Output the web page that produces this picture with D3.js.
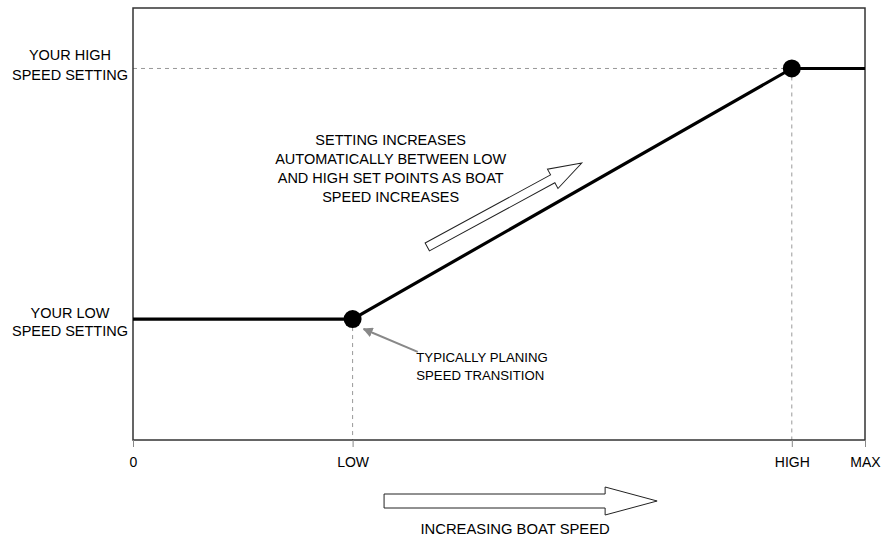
<!DOCTYPE html>
<html lang="en">
<head>
<meta charset="utf-8">
<title>Speed setting</title>
<script src="https://d3js.org/d3.v7.min.js"></script>
<style>
  body { margin: 0; background: #fff; }
  text { font-family: "Liberation Sans", Arial, sans-serif; fill: #000; }
</style>
</head>
<body>
<script>
// boat speed positions (percent of max) and tick labels
const speedTicks = [0, 30, 90, 100];
const speedLabels = ["0", "LOW", "HIGH", "MAX"];

// setting levels (percent)
const settingLevels = [28, 86];
const settingLabels = [["YOUR LOW", "SPEED SETTING"], ["YOUR HIGH", "SPEED SETTING"]];

// the curve: speed vs setting
const curveSpeed = [0, 30, 90, 100];
const curveSetting = [28, 28, 86, 86];

const noteLines = ["SETTING INCREASES", "AUTOMATICALLY BETWEEN LOW", "AND HIGH SET POINTS AS BOAT", "SPEED INCREASES"];
const transitionLines = ["TYPICALLY PLANING", "SPEED TRANSITION"];
const xTitle = "INCREASING BOAT SPEED";

const margin = {top: 8, right: 30, bottom: 97, left: 133},
      width = 895 - margin.left - margin.right,
      height = 537 - margin.top - margin.bottom;

const svg = d3.select("body").append("svg")
    .attr("width", 895)
    .attr("height", 537)
    .append("g")
    .attr("transform", "translate(" + margin.left + "," + margin.top + ")");

const x = d3.scaleLinear().domain([0, 100]).range([0, width]);
const y = d3.scaleLinear().domain([0, 100]).range([height, 0]);

// dashed guides
const dash = svg.append("g").attr("stroke", "#999").attr("stroke-width", 1).attr("stroke-dasharray", "4,4");
dash.append("line")
    .attr("x1", 0).attr("x2", x(curveSpeed[2]))
    .attr("y1", y(settingLevels[1])).attr("y2", y(settingLevels[1]));
[curveSpeed[1], curveSpeed[2]].forEach(function(s, i) {
    dash.append("line")
        .attr("x1", x(s)).attr("x2", x(s))
        .attr("y1", y(curveSetting[i + 1])).attr("y2", height);
});

// frame
svg.append("rect")
    .attr("x", 0).attr("y", 0)
    .attr("width", width).attr("height", height)
    .attr("fill", "none")
    .attr("stroke", "#333")
    .attr("stroke-width", 1.5);

// x axis ticks + labels
const xAxis = d3.axisBottom(x)
    .tickValues(speedTicks)
    .tickFormat(function(d, i) { return speedLabels[i]; })
    .tickSize(7)
    .tickSizeOuter(0);
const gx = svg.append("g").attr("transform", "translate(0," + height + ")").call(xAxis);
gx.select(".domain").remove();
gx.selectAll(".tick line").attr("stroke", "#888");
gx.selectAll(".tick text")
    .attr("y", 17)
    .attr("fill", "#000")
    .style("font-size", "14px")
    .style("font-family", "'Liberation Sans', Arial, sans-serif");

// y labels (line offsets from the level, low then high)
const labelOffsets = [[-1, 17], [-8, 12]];
settingLevels.forEach(function(v, i) {
    const t = svg.append("text")
        .attr("text-anchor", "middle")
        .style("font-size", "14.5px");
    settingLabels[i].forEach(function(line, j) {
        t.append("tspan")
            .attr("x", -63)
            .attr("y", y(v) + labelOffsets[i][j])
            .text(line);
    });
});

// curve
const line = d3.line()
    .x(function(d) { return x(d[0]); })
    .y(function(d) { return y(d[1]); });
const pts = curveSpeed.map(function(s, i) { return [s, curveSetting[i]]; });
svg.append("path")
    .datum(pts)
    .attr("d", line)
    .attr("fill", "none")
    .attr("stroke", "#000")
    .attr("stroke-width", 3.2);

svg.selectAll("circle.pt")
    .data(pts.slice(1, 3))
    .enter().append("circle")
    .attr("class", "pt")
    .attr("cx", function(d) { return x(d[0]); })
    .attr("cy", function(d) { return y(d[1]); })
    .attr("r", 9)
    .attr("fill", "#000");

// hollow block arrow helper (length, shaft half width, head half width, head length)
function blockArrow(len, sw, hw, hl) {
    return "M0," + (-sw) + "L" + (len - hl) + "," + (-sw) + "L" + (len - hl) + "," + (-hw) +
        "L" + len + ",0L" + (len - hl) + "," + hw + "L" + (len - hl) + "," + sw + "L0," + sw + "Z";
}

// diagonal arrow along the slope
const ax0 = x(40.2), ay0 = y(44.7);
const ax1 = x(61.3), ay1 = y(64.1);
const alen = Math.hypot(ax1 - ax0, ay1 - ay0);
const aang = Math.atan2(ay1 - ay0, ax1 - ax0) * 180 / Math.PI;
svg.append("path")
    .attr("d", blockArrow(alen, 4.5, 11, 33))
    .attr("transform", "translate(" + ax0 + "," + ay0 + ") rotate(" + aang + ")")
    .attr("fill", "#fff")
    .attr("stroke", "#222")
    .attr("stroke-width", 1);

// slope note
const note = svg.append("text").attr("text-anchor", "middle").style("font-size", "14.5px");
noteLines.forEach(function(l, i) {
    note.append("tspan").attr("x", x(35.2)).attr("y", 145 - margin.top + i * 19).text(l);
});

// transition pointer
svg.append("defs").append("marker")
    .attr("id", "tip")
    .attr("viewBox", "0 0 10 10")
    .attr("refX", 9).attr("refY", 5)
    .attr("markerWidth", 5).attr("markerHeight", 5)
    .attr("orient", "auto")
    .append("path").attr("d", "M0,0L10,5L0,10Z").attr("fill", "#888");
svg.append("line")
    .attr("x1", x(38.9)).attr("y1", y(20.4))
    .attr("x2", x(31.5)).attr("y2", y(25.7))
    .attr("stroke", "#888")
    .attr("stroke-width", 2)
    .attr("marker-end", "url(#tip)");
const tnote = svg.append("text").style("font-size", "13.2px");
transitionLines.forEach(function(l, i) {
    tnote.append("tspan").attr("x", x(38.7)).attr("y", 362 - margin.top + i * 18).text(l);
});

// bottom arrow + title
const bx0 = x(34.3), bx1 = x(71.6);
svg.append("path")
    .attr("d", blockArrow(bx1 - bx0, 7, 14, 52))
    .attr("transform", "translate(" + bx0 + "," + (501 - margin.top) + ")")
    .attr("fill", "#fff")
    .attr("stroke", "#222")
    .attr("stroke-width", 1);
svg.append("text")
    .attr("x", x(52.2))
    .attr("y", 534 - margin.top)
    .attr("text-anchor", "middle")
    .style("font-size", "14.8px")
    .text(xTitle);
</script>
</body>
</html>
